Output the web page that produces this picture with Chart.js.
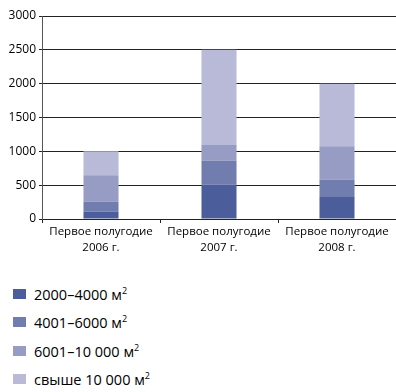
<!DOCTYPE html>
<html>
<head>
<meta charset="utf-8">
<script src="https://cdn.jsdelivr.net/npm/chart.js@4"></script>
<style>
  html, body { margin: 0; padding: 0; background: #fff; }
  body { width: 396px; height: 392px; position: relative; overflow: hidden; font-family: "Open Sans", sans-serif; }
  #wrap { position: absolute; left: 0; top: 0; width: 396px; height: 262px; }
  #legend { position: absolute; left: 13px; top: 280px; margin: 0; padding: 0; list-style: none; }
  #legend li { height: 28.3px; display: flex; align-items: center; font-size: 14.5px; color: #000; white-space: nowrap; }
  #legend .box { width: 13px; height: 10px; margin-right: 8px; flex: none; }
  #legend sup { font-size: 9px; vertical-align: 6px; }
</style>
</head>
<body>
<div id="wrap"><canvas id="chart"></canvas></div>
<ul id="legend"></ul>
<script>
// Periods (x categories)
const periods = [["Первое полугодие", "2006 г."], ["Первое полугодие", "2007 г."], ["Первое полугодие", "2008 г."]];

// Size groups, bottom to top
const groupNames = ["2000–4000 м²", "4001–6000 м²", "6001–10 000 м²", "свыше 10 000 м²"];
const groupColors = ["#4b5e9b", "#717dae", "#969cc3", "#b8bad7"];

// Values per group for each period
const size2000to4000 = [110, 505, 325];
const size4001to6000 = [145, 355, 255];
const size6001to10000 = [390, 240, 495];
const sizeOver10000 = [355, 1400, 925];

// Y-axis tick values
const yTicks = [0, 500, 1000, 1500, 2000, 2500, 3000];

const seriesValues = [size2000to4000, size4001to6000, size6001to10000, sizeOver10000];

const datasets = seriesValues.map((vals, i) => ({
  label: groupNames[i],
  data: vals,
  backgroundColor: groupColors[i],
  borderWidth: 0,
  categoryPercentage: 1,
  barPercentage: 0.297
}));

const lineColor = "#222";

new Chart(document.getElementById("chart"), {
  type: "bar",
  data: { labels: periods, datasets },
  options: {
    responsive: true,
    maintainAspectRatio: false,
    animation: false,
    layout: { padding: { top: 16, right: 0, left: 0, bottom: 0 } },
    plugins: { legend: { display: false }, tooltip: { enabled: false } },
    scales: {
      x: {
        stacked: true,
        grid: { drawOnChartArea: false, offset: true, color: lineColor, tickLength: 4, lineWidth: 1 },
        border: { color: lineColor, width: 1 },
        ticks: { color: "#000", font: { family: "Open Sans", size: 11.5, lineHeight: 1.38 }, padding: 1, maxRotation: 0, autoSkip: false },
        afterFit: s => { s.height = 43; }
      },
      y: {
        stacked: true,
        min: yTicks[0],
        max: yTicks[yTicks.length - 1],
        afterBuildTicks: s => { s.ticks = yTicks.map(v => ({ value: v })); },
        grid: { color: lineColor, tickLength: 3, lineWidth: 1 },
        border: { color: "#555", width: 1 },
        ticks: { color: "#000", font: { family: "Open Sans", size: 12 }, padding: 3, callback: v => String(v) },
        afterFit: s => { s.width = 42; }
      }
    }
  }
});

// Vertical legend list built from the datasets
const legend = document.getElementById("legend");
groupNames.forEach((name, i) => {
  const li = document.createElement("li");
  const box = document.createElement("span");
  box.className = "box";
  box.style.background = groupColors[i];
  li.appendChild(box);
  const txt = document.createElement("span");
  txt.innerHTML = name.replace("м²", "м<sup>2</sup>");
  li.appendChild(txt);
  legend.appendChild(li);
});
</script>
</body>
</html>
